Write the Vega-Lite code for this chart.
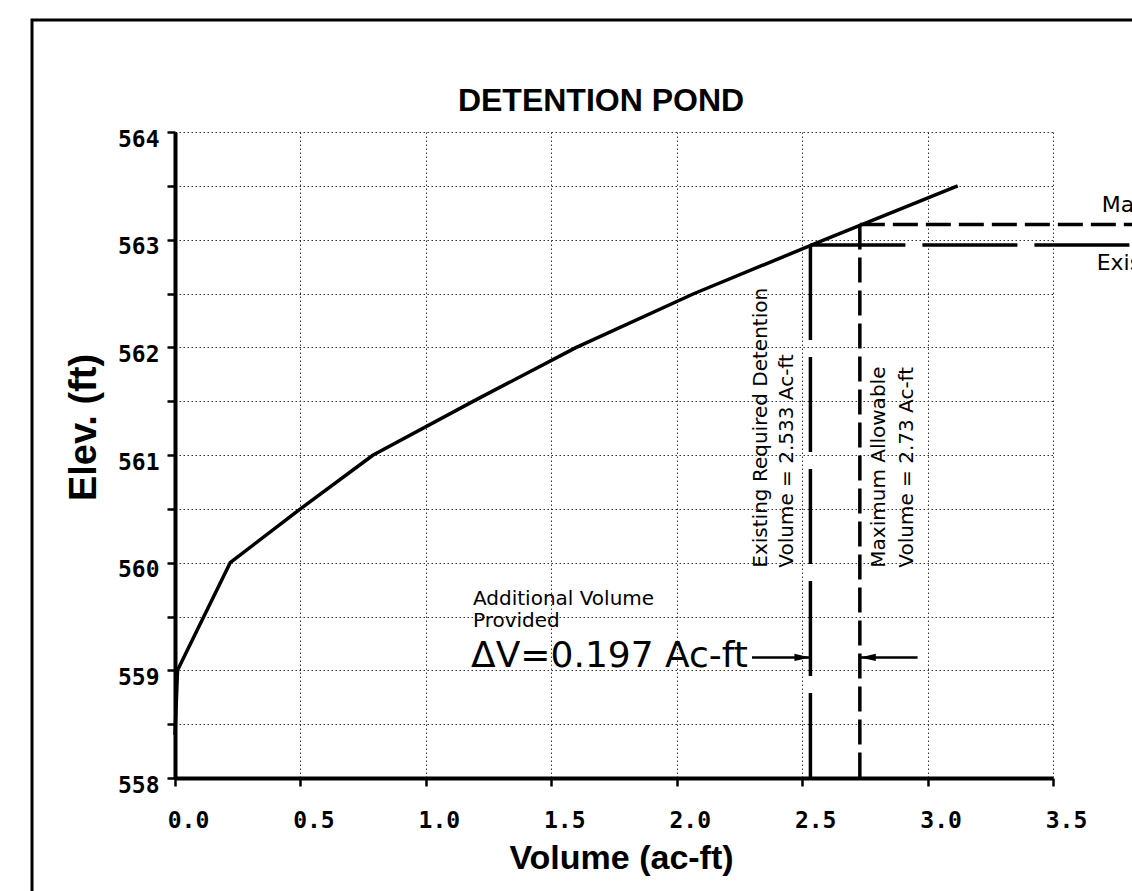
{
  "$schema": "https://vega.github.io/schema/vega-lite/v6.json",
  "width": 878,
  "height": 646,
  "autosize": {"type": "none"},
  "padding": {"left": 175, "top": 132, "right": 79, "bottom": 113},
  "background": "white",
  "title": {
    "text": "DETENTION POND",
    "font": "Liberation Sans",
    "fontSize": 32,
    "fontWeight": "bold",
    "color": "#000",
    "anchor": "middle",
    "frame": "group",
    "dx": -13,
    "offset": -124,
    "baseline": "alphabetic"
  },
  "datasets": {
    "curve": [
      {"vol": 0.0, "elev": 558.4},
      {"vol": 0.01, "elev": 559.0},
      {"vol": 0.22, "elev": 560.0},
      {"vol": 0.5, "elev": 560.5},
      {"vol": 0.79, "elev": 561.0},
      {"vol": 1.19, "elev": 561.5},
      {"vol": 1.6, "elev": 562.0},
      {"vol": 2.07, "elev": 562.5},
      {"vol": 2.59, "elev": 563.0},
      {"vol": 3.12, "elev": 563.5}
    ],
    "levels": [
      {"name": "Existing", "volume": 2.533, "elev": 562.95, "label": "Existing Required Detention\nVolume = 2.533 Ac-ft", "tag": "Existing Required"},
      {"name": "Maximum", "volume": 2.73, "elev": 563.14, "label": "Maximum Allowable\nVolume = 2.73 Ac-ft", "tag": "Maximum Allowable"}
    ],
    "arrows": [
      {"dir": "right", "from": 2.3, "to": 2.533, "elev": 559.12},
      {"dir": "left", "from": 2.96, "to": 2.73, "elev": 559.12}
    ]
  },
  "config": {"view": {"stroke": null}},
  "layer": [
    {
      "data": {"name": "curve"},
      "mark": {"type": "line", "color": "#000", "strokeWidth": 3.5, "strokeJoin": "round"},
      "encoding": {
        "x": {
          "field": "vol", "type": "quantitative", "title": "Volume (ac-ft)",
          "scale": {"domain": [0, 3.5], "nice": false, "zero": false},
          "axis": {
            "values": [0, 0.5, 1, 1.5, 2, 2.5, 3, 3.5],
            "format": ".1f",
            "grid": true, "gridColor": "#333", "gridDash": [1.5, 2.5], "gridWidth": 1,
            "domainColor": "#000", "domainWidth": 4,
            "tickColor": "#000", "tickSize": 8, "tickWidth": 2.5,
            "labelFont": "DejaVu Sans Mono", "labelFontSize": 23, "labelFontWeight": "bold", "labelColor": "#000",
            "labelPadding": 23, "labelOffset": 13, "labelBaseline": "top", "labelFlush": false, "labelOverlap": false,
            "titleFont": "Liberation Sans", "titleFontSize": 34, "titleFontWeight": "bold", "titleColor": "#000",
            "titleX": 446, "titleY": 90, "titleAlign": "center", "titleBaseline": "alphabetic"
          }
        },
        "y": {
          "field": "elev", "type": "quantitative", "title": "Elev. (ft)",
          "scale": {"domain": [558, 564], "nice": false, "zero": false},
          "axis": {
            "values": [558, 558.5, 559, 559.5, 560, 560.5, 561, 561.5, 562, 562.5, 563, 563.5, 564],
            "labelExpr": "datum.value % 1 === 0 ? format(datum.value, 'd') : ''",
            "grid": true, "gridColor": "#333", "gridDash": [1.5, 2.5], "gridWidth": 1,
            "domainColor": "#000", "domainWidth": 4,
            "tickColor": "#000", "tickSize": 8, "tickWidth": 2.5,
            "labelFont": "DejaVu Sans Mono", "labelFontSize": 23, "labelFontWeight": "bold", "labelColor": "#000",
            "labelPadding": 8, "labelOffset": 7, "labelBaseline": "middle", "labelFlush": false, "labelOverlap": false,
            "titleFont": "Liberation Sans", "titleFontSize": 38, "titleFontWeight": "bold", "titleColor": "#000",
            "titleAngle": 270, "titleX": -80, "titleY": 295, "titleAlign": "center", "titleBaseline": "alphabetic"
          }
        },
        "order": {"field": "elev", "type": "quantitative"}
      }
    },
    {
      "data": {"values": [{}]},
      "mark": {"type": "rect", "filled": false, "color": "#000", "strokeWidth": 3},
      "encoding": {
        "x": {"datum": -0.57, "type": "quantitative", "scale": {"domain": [0, 3.5], "nice": false, "zero": false}},
        "x2": {"datum": 4.3},
        "y": {"datum": 565.04, "type": "quantitative", "scale": {"domain": [558, 564], "nice": false, "zero": false}},
        "y2": {"datum": 556}
      }
    },
    {
      "data": {"name": "levels"},
      "mark": {"type": "rule", "color": "#000", "strokeWidth": 3.5},
      "encoding": {
        "x": {"field": "volume", "type": "quantitative", "title": "Volume (ac-ft)", "scale": {"domain": [0, 3.5], "nice": false, "zero": false}},
        "y": {"field": "elev", "type": "quantitative", "title": "Elev. (ft)", "scale": {"domain": [558, 564], "nice": false, "zero": false}},
        "y2": {"datum": 558},
        "strokeDash": {"field": "name", "type": "nominal", "scale": {"domain": ["Existing", "Maximum"], "range": [[95, 17], [25, 8]]}, "legend": null}
      }
    },
    {
      "data": {"name": "levels"},
      "mark": {"type": "rule", "color": "#000", "strokeWidth": 3.5},
      "encoding": {
        "x": {"field": "volume", "type": "quantitative", "title": "Volume (ac-ft)", "scale": {"domain": [0, 3.5], "nice": false, "zero": false}},
        "x2": {"datum": 3.95},
        "y": {"field": "elev", "type": "quantitative", "title": "Elev. (ft)", "scale": {"domain": [558, 564], "nice": false, "zero": false}},
        "strokeDash": {"field": "name", "type": "nominal", "scale": {"domain": ["Existing", "Maximum"], "range": [[95, 17], [25, 8]]}, "legend": null}
      }
    },
    {
      "data": {"name": "arrows"},
      "mark": {"type": "rule", "color": "#000", "strokeWidth": 2.5},
      "encoding": {
        "x": {"field": "from", "type": "quantitative", "title": "Volume (ac-ft)", "scale": {"domain": [0, 3.5], "nice": false, "zero": false}},
        "x2": {"field": "to"},
        "y": {"field": "elev", "type": "quantitative", "title": "Elev. (ft)", "scale": {"domain": [558, 564], "nice": false, "zero": false}}
      }
    },
    {
      "data": {"name": "arrows"},
      "mark": {"type": "point", "filled": true, "color": "#000", "opacity": 1, "size": 256, "strokeWidth": 0},
      "encoding": {
        "x": {"field": "to", "type": "quantitative", "title": "Volume (ac-ft)", "scale": {"domain": [0, 3.5], "nice": false, "zero": false}},
        "y": {"field": "elev", "type": "quantitative", "title": "Elev. (ft)", "scale": {"domain": [558, 564], "nice": false, "zero": false}},
        "shape": {"field": "dir", "type": "nominal", "scale": {"domain": ["right", "left"], "range": ["M 0 0 L -2 -0.45 L -2 0.45 Z", "M 0 0 L 2 -0.45 L 2 0.45 Z"]}, "legend": null}
      }
    },
    {
      "data": {"name": "levels"},
      "transform": [{"filter": "datum.name === 'Existing'"}],
      "mark": {"type": "text", "font": "DejaVu Sans", "fontSize": 20, "color": "#000", "angle": 270, "align": "left", "baseline": "alphabetic", "lineBreak": "\n", "lineHeight": 26, "dx": -5, "dy": -43.5},
      "encoding": {
        "x": {"field": "volume", "type": "quantitative", "title": "Volume (ac-ft)", "scale": {"domain": [0, 3.5], "nice": false, "zero": false}},
        "y": {"datum": 560, "type": "quantitative", "scale": {"domain": [558, 564], "nice": false, "zero": false}},
        "text": {"field": "label", "type": "nominal"}
      }
    },
    {
      "data": {"name": "levels"},
      "transform": [{"filter": "datum.name === 'Maximum'"}],
      "mark": {"type": "text", "font": "DejaVu Sans", "fontSize": 20, "color": "#000", "angle": 270, "align": "left", "baseline": "alphabetic", "lineBreak": "\n", "lineHeight": 28, "dx": -5, "dy": 25},
      "encoding": {
        "x": {"field": "volume", "type": "quantitative", "title": "Volume (ac-ft)", "scale": {"domain": [0, 3.5], "nice": false, "zero": false}},
        "y": {"datum": 560, "type": "quantitative", "scale": {"domain": [558, 564], "nice": false, "zero": false}},
        "text": {"field": "label", "type": "nominal"}
      }
    },
    {
      "data": {"name": "levels"},
      "transform": [{"filter": "datum.name === 'Maximum'"}],
      "mark": {"type": "text", "font": "DejaVu Sans", "fontSize": 22, "color": "#000", "align": "left", "baseline": "alphabetic", "dx": 1, "dy": -12.6},
      "encoding": {
        "x": {"datum": 3.69, "type": "quantitative", "scale": {"domain": [0, 3.5], "nice": false, "zero": false}},
        "y": {"field": "elev", "type": "quantitative", "title": "Elev. (ft)", "scale": {"domain": [558, 564], "nice": false, "zero": false}},
        "text": {"field": "tag", "type": "nominal"}
      }
    },
    {
      "data": {"name": "levels"},
      "transform": [{"filter": "datum.name === 'Existing'"}],
      "mark": {"type": "text", "font": "DejaVu Sans", "fontSize": 22, "color": "#000", "align": "left", "baseline": "alphabetic", "dx": -4, "dy": 25},
      "encoding": {
        "x": {"datum": 3.69, "type": "quantitative", "scale": {"domain": [0, 3.5], "nice": false, "zero": false}},
        "y": {"field": "elev", "type": "quantitative", "title": "Elev. (ft)", "scale": {"domain": [558, 564], "nice": false, "zero": false}},
        "text": {"field": "tag", "type": "nominal"}
      }
    },
    {
      "data": {"name": "arrows"},
      "transform": [{"filter": "datum.dir === 'right'"}],
      "mark": {"type": "text", "font": "DejaVu Sans", "fontSize": 36, "color": "#000", "align": "right", "baseline": "alphabetic", "dx": -4, "dy": 10, "text": "ΔV=0.197 Ac-ft"},
      "encoding": {
        "x": {"field": "from", "type": "quantitative", "title": "Volume (ac-ft)", "scale": {"domain": [0, 3.5], "nice": false, "zero": false}},
        "y": {"field": "elev", "type": "quantitative", "title": "Elev. (ft)", "scale": {"domain": [558, 564], "nice": false, "zero": false}}
      }
    },
    {
      "data": {"name": "arrows"},
      "transform": [{"filter": "datum.dir === 'right'"}],
      "mark": {"type": "text", "font": "DejaVu Sans", "fontSize": 20, "color": "#000", "align": "left", "baseline": "alphabetic", "lineBreak": "\n", "lineHeight": 22, "dx": -279, "dy": -52, "text": "Additional Volume\nProvided"},
      "encoding": {
        "x": {"field": "from", "type": "quantitative", "title": "Volume (ac-ft)", "scale": {"domain": [0, 3.5], "nice": false, "zero": false}},
        "y": {"field": "elev", "type": "quantitative", "title": "Elev. (ft)", "scale": {"domain": [558, 564], "nice": false, "zero": false}}
      }
    }
  ]
}
